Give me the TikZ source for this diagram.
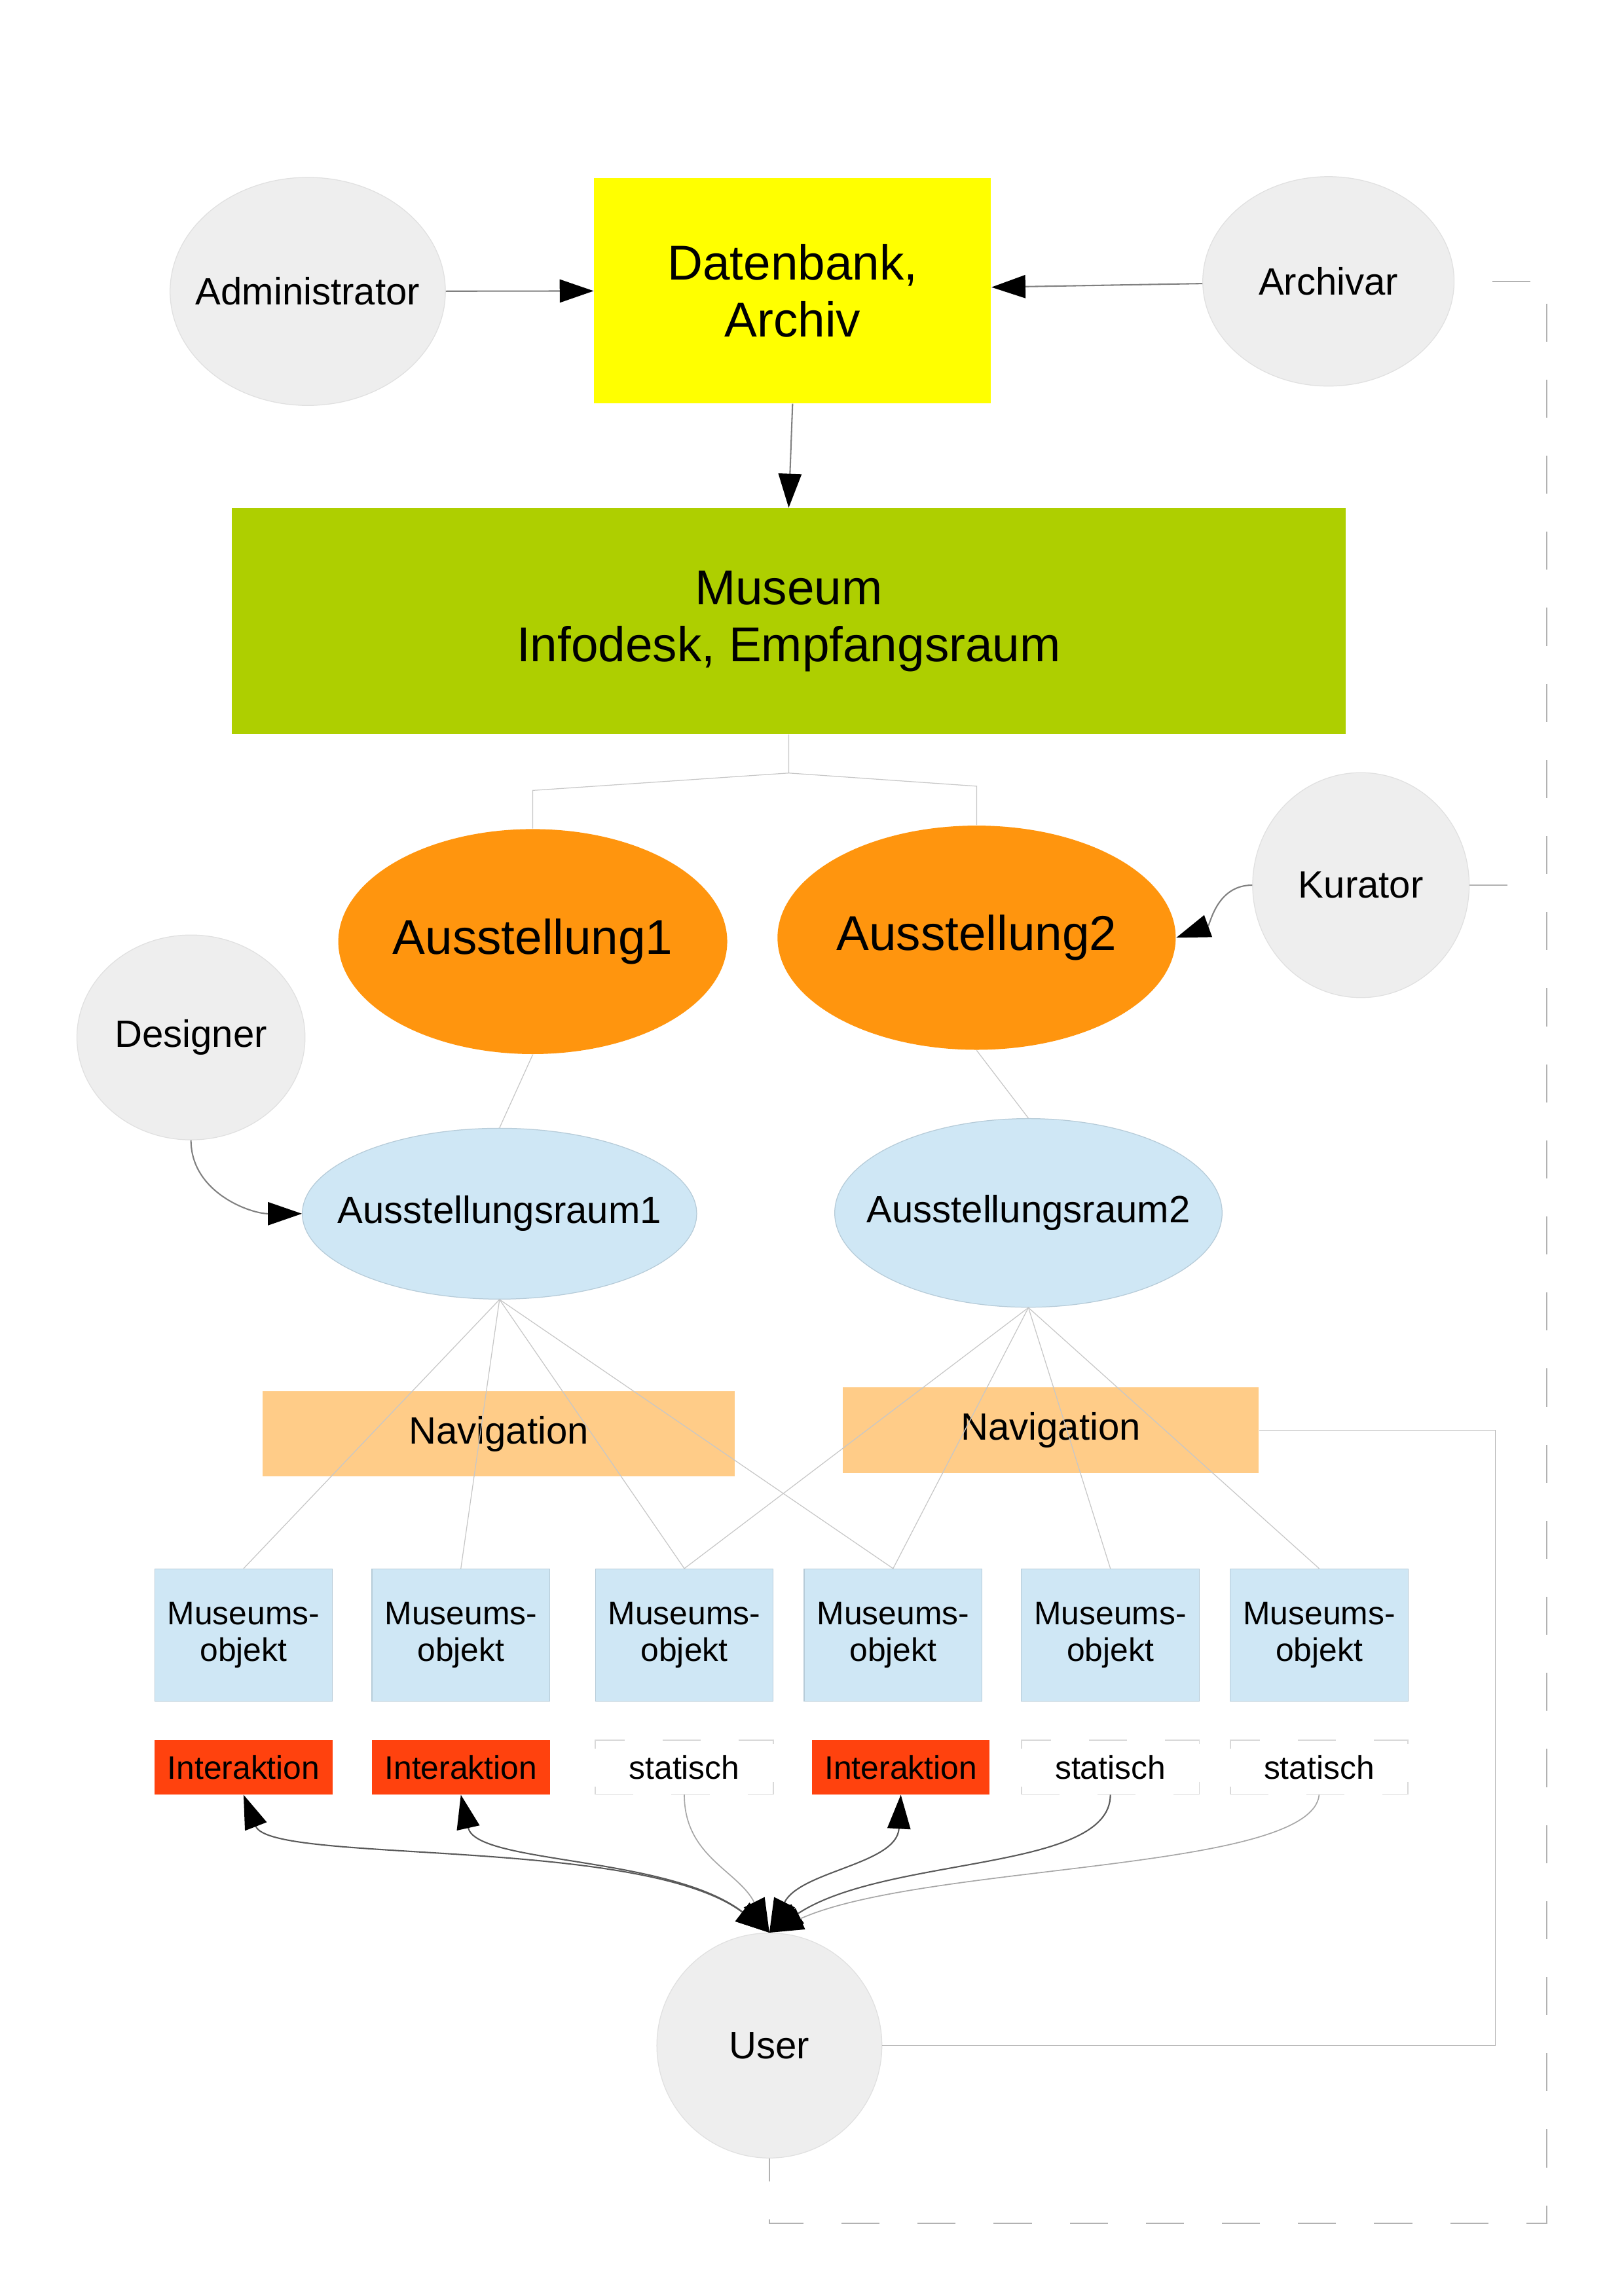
\documentclass[tikz,border=0pt]{standalone}
\usepackage{fontspec}
\setmainfont{Liberation Sans}
\usetikzlibrary{shapes.geometric,arrows.meta}

\definecolor{dbyellow}{HTML}{FFFF00}
\definecolor{museumgreen}{HTML}{AECF00}
\definecolor{exhorange}{HTML}{FF950E}
\definecolor{roomblue}{HTML}{CFE7F5}
\definecolor{navorange}{HTML}{FFCC88}
\definecolor{interred}{HTML}{FF420E}
\definecolor{rolegray}{HTML}{EEEEEE}

\begin{document}
\begin{tikzpicture}[
    >={Triangle[length=12.5pt,width=8.5pt,color=black]},
    role/.style={ellipse, fill=rolegray, draw=black!12, line width=0.3pt, inner sep=0pt, inner xsep=-1.5cm, font=\fontsize{14pt}{16pt}\selectfont},
    exhibit/.style={ellipse, fill=exhorange, inner sep=0pt, inner xsep=-1.5cm, font=\fontsize{18pt}{21pt}\selectfont},
    room/.style={ellipse, fill=roomblue, draw=roomblue!88!black, line width=0.3pt, inner sep=0pt, inner xsep=-1.5cm, font=\fontsize{14pt}{16pt}\selectfont},
    navbox/.style={rectangle, fill=navorange, inner sep=0pt, font=\fontsize{14pt}{16pt}\selectfont},
    objbox/.style={rectangle, fill=roomblue, draw=roomblue!88!black, line width=0.3pt, inner sep=0pt, minimum width=2.30cm, minimum height=1.71cm, align=center, font=\fontsize{12pt}{13.5pt}\selectfont},
    interbox/.style={rectangle, fill=interred, inner sep=0pt, minimum width=2.30cm, minimum height=0.70cm, font=\fontsize{12pt}{13.5pt}\selectfont},
    staticbox/.style={interbox, fill=white, draw=black!15, line width=0.4pt, dash pattern=on 14pt off 14pt},
    link/.style={draw=black!50, line width=0.5pt},
    darklink/.style={draw=black!65, line width=0.5pt},
    lightlink/.style={draw=black!35, line width=0.4pt},
    faint/.style={draw=black!22, line width=0.3pt},
    dashlink/.style={draw=black!30, line width=0.5pt, dash pattern=on 14pt off 14pt},
  ]

  \useasboundingbox (0,0) rectangle (21,29.7);

  \node[role, minimum width=3.56cm, minimum height=2.95cm] (admin) at (3.98,25.93) {Administrator};
  \node[rectangle, fill=dbyellow, inner sep=0pt, minimum width=5.13cm, minimum height=2.91cm, align=center, font=\fontsize{18pt}{21pt}\selectfont] (db) at (10.25,25.94) {Datenbank,\\Archiv};
  \node[role, minimum width=3.25cm, minimum height=2.71cm] (archivar) at (17.18,26.06) {Archivar};

  \node[rectangle, fill=museumgreen, inner sep=0pt, minimum width=14.40cm, minimum height=2.92cm, align=center, font=\fontsize{18pt}{21pt}\selectfont] (museum) at (10.20,21.665) {Museum\\Infodesk, Empfangsraum};

  \node[exhibit, minimum width=5.03cm, minimum height=2.91cm] (exh1) at (6.89,17.52) {Ausstellung1};
  \node[exhibit, minimum width=5.15cm, minimum height=2.90cm] (exh2) at (12.63,17.57) {Ausstellung2};
  \node[role, minimum width=2.80cm, minimum height=2.91cm] (kurator) at (17.60,18.25) {Kurator};
  \node[role, minimum width=2.95cm, minimum height=2.65cm] (designer) at (2.47,16.28) {Designer};

  \node[room, minimum width=5.10cm, minimum height=2.21cm] (room1) at (6.46,14.00) {Ausstellungsraum1};
  \node[room, minimum width=5.01cm, minimum height=2.44cm] (room2) at (13.30,14.01) {Ausstellungsraum2};

  \node[navbox, minimum width=6.11cm, minimum height=1.10cm] (nav1) at (6.45,11.15) {Navigation};
  \node[navbox, minimum width=5.38cm, minimum height=1.11cm] (nav2) at (13.59,11.20) {Navigation};

  \node[objbox] (obj1) at (3.15,8.55) {Museums-\\objekt};
  \node[objbox] (obj2) at (5.96,8.55) {Museums-\\objekt};
  \node[objbox] (obj3) at (8.85,8.55) {Museums-\\objekt};
  \node[objbox] (obj4) at (11.55,8.55) {Museums-\\objekt};
  \node[objbox] (obj5) at (14.36,8.55) {Museums-\\objekt};
  \node[objbox] (obj6) at (17.06,8.55) {Museums-\\objekt};

  \node[interbox] (tag1) at (3.15,6.84) {Interaktion};
  \node[interbox] (tag2) at (5.96,6.84) {Interaktion};
  \node[staticbox] (tag3) at (8.85,6.84) {statisch};
  \node[interbox] (tag4) at (11.65,6.84) {Interaktion};
  \node[staticbox] (tag5) at (14.36,6.84) {statisch};
  \node[staticbox] (tag6) at (17.06,6.84) {statisch};

  \node[role, minimum width=2.91cm, minimum height=2.91cm] (user) at (9.95,3.24) {User};

  \coordinate (split) at (10.20,19.70);
  \coordinate (splitleft) at (6.89,19.475);
  \coordinate (splitright) at (12.63,19.53);
  \coordinate (kurend) at (19.70,18.25);
  \coordinate (navbend) at (19.34,11.20);
  \coordinate (dashcorner) at (20.00,0.94);

  \draw[link, ->] (admin) -- (db);
  \draw[link, ->] (archivar) -- (db);
  \draw[link, ->] (db.south) -- (museum.north);

  \draw[faint] (museum.south) -- (split) -- (splitleft) -- (exh1.north);
  \draw[faint] (split) -- (splitright) -- (exh2.north);
  \draw[faint] (exh1.south) -- (room1.north);
  \draw[faint] (exh2.south) -- (room2.north);

  \draw[link, ->] (kurator.west) to[out=180, in=20] (exh2.east);
  \draw[link, ->] (designer.south) to[out=-90, in=180] (room1.west);

  \draw[faint] (room1.south) -- (obj1.north);
  \draw[faint] (room1.south) -- (obj2.north);
  \draw[faint] (room1.south) -- (obj3.north);
  \draw[faint] (room1.south) -- (obj4.north);
  \draw[faint] (room2.south) -- (obj3.north);
  \draw[faint] (room2.south) -- (obj4.north);
  \draw[faint] (room2.south) -- (obj5.north);
  \draw[faint] (room2.south) -- (obj6.north);

  \draw[darklink, <->] (tag1.south) .. controls +(0.35,-0.9) and +(-1.65,1.25) .. (user.north);
  \draw[darklink, <->] (tag2.south) .. controls +(0.2,-0.9) and +(-1.3,1.0) .. (user.north);
  \draw[lightlink, ->] (tag3.south) .. controls +(0,-0.8) and +(-0.4,0.8) .. (user.north);
  \draw[darklink, <->] (tag4.south) .. controls +(-0.05,-0.9) and +(0.4,0.8) .. (user.north);
  \draw[darklink, ->] (tag5.south) .. controls +(0,-1.0) and +(1.5,1.0) .. (user.north);
  \draw[lightlink, ->] (tag6.south) .. controls +(-0.1,-1.0) and +(2.0,0.9) .. (user.north);

  \draw[faint, draw=black!30] (nav2.east) -- (navbend) |- (user.east);
  \draw[dashlink] (kurator.east) -- (kurend);
  \draw[dashlink, dash phase=14pt] (archivar.east) -| (dashcorner) -| (user.south);

\end{tikzpicture}
\end{document}
